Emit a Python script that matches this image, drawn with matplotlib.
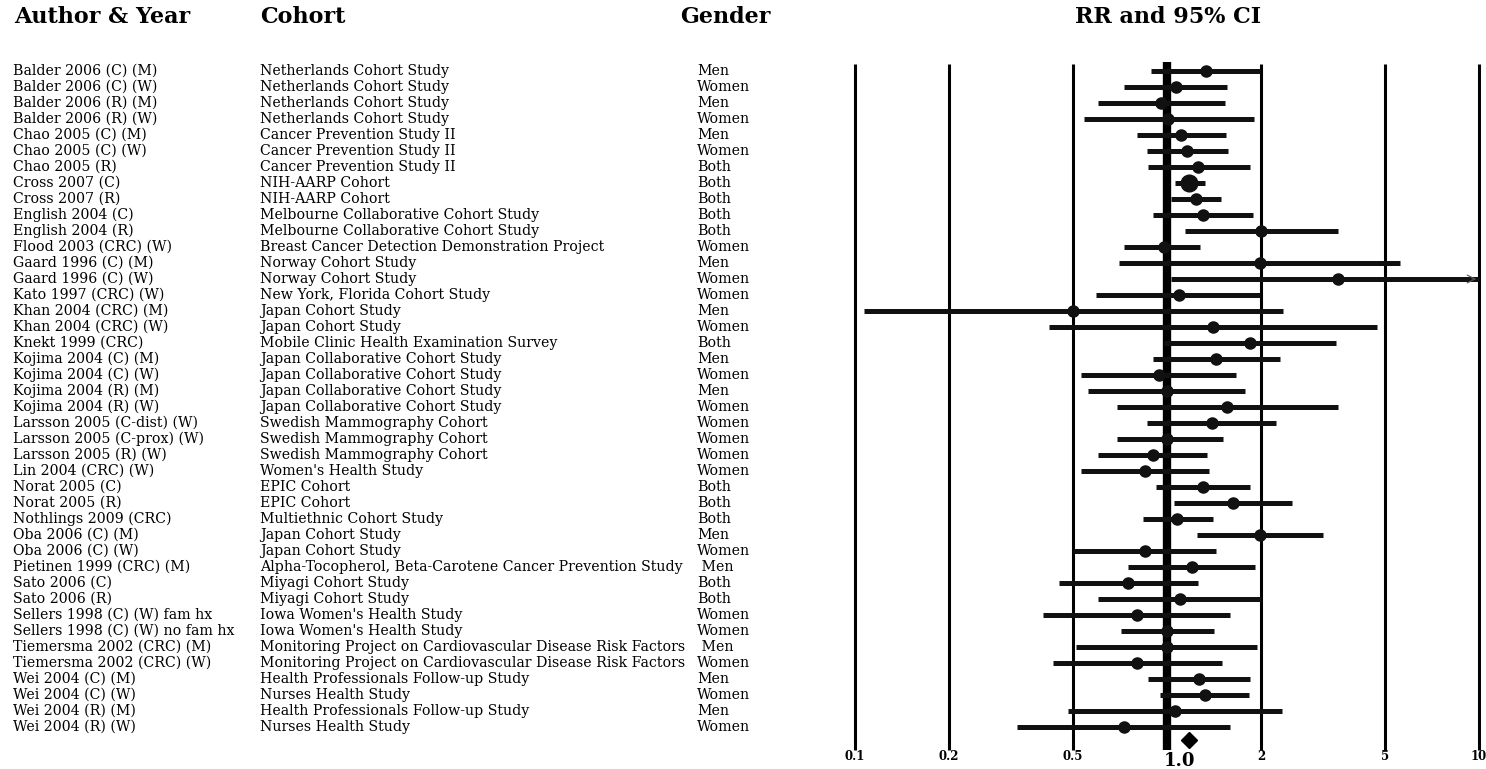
import matplotlib
matplotlib.use("Agg")
import matplotlib.pyplot as plt
import numpy as np

authors = [
    "Balder 2006 (C) (M)", "Balder 2006 (C) (W)", "Balder 2006 (R) (M)", "Balder 2006 (R) (W)",
    "Chao 2005 (C) (M)", "Chao 2005 (C) (W)", "Chao 2005 (R)", "Cross 2007 (C)", "Cross 2007 (R)",
    "English 2004 (C)", "English 2004 (R)", "Flood 2003 (CRC) (W)", "Gaard 1996 (C) (M)",
    "Gaard 1996 (C) (W)", "Kato 1997 (CRC) (W)", "Khan 2004 (CRC) (M)", "Khan 2004 (CRC) (W)",
    "Knekt 1999 (CRC)", "Kojima 2004 (C) (M)", "Kojima 2004 (C) (W)", "Kojima 2004 (R) (M)",
    "Kojima 2004 (R) (W)", "Larsson 2005 (C-dist) (W)", "Larsson 2005 (C-prox) (W)",
    "Larsson 2005 (R) (W)", "Lin 2004 (CRC) (W)", "Norat 2005 (C)", "Norat 2005 (R)",
    "Nothlings 2009 (CRC)", "Oba 2006 (C) (M)", "Oba 2006 (C) (W)", "Pietinen 1999 (CRC) (M)",
    "Sato 2006 (C)", "Sato 2006 (R)", "Sellers 1998 (C) (W) fam hx", "Sellers 1998 (C) (W) no fam hx",
    "Tiemersma 2002 (CRC) (M)", "Tiemersma 2002 (CRC) (W)", "Wei 2004 (C) (M)", "Wei 2004 (C) (W)",
    "Wei 2004 (R) (M)", "Wei 2004 (R) (W)",
]
cohorts = [
    "Netherlands Cohort Study", "Netherlands Cohort Study", "Netherlands Cohort Study", "Netherlands Cohort Study",
    "Cancer Prevention Study II", "Cancer Prevention Study II", "Cancer Prevention Study II",
    "NIH-AARP Cohort", "NIH-AARP Cohort",
    "Melbourne Collaborative Cohort Study", "Melbourne Collaborative Cohort Study",
    "Breast Cancer Detection Demonstration Project", "Norway Cohort Study", "Norway Cohort Study",
    "New York, Florida Cohort Study", "Japan Cohort Study", "Japan Cohort Study",
    "Mobile Clinic Health Examination Survey", "Japan Collaborative Cohort Study",
    "Japan Collaborative Cohort Study", "Japan Collaborative Cohort Study", "Japan Collaborative Cohort Study",
    "Swedish Mammography Cohort", "Swedish Mammography Cohort", "Swedish Mammography Cohort",
    "Women's Health Study", "EPIC Cohort", "EPIC Cohort", "Multiethnic Cohort Study",
    "Japan Cohort Study", "Japan Cohort Study",
    "Alpha-Tocopherol, Beta-Carotene Cancer Prevention Study", "Miyagi Cohort Study", "Miyagi Cohort Study",
    "Iowa Women's Health Study", "Iowa Women's Health Study",
    "Monitoring Project on Cardiovascular Disease Risk Factors",
    "Monitoring Project on Cardiovascular Disease Risk Factors",
    "Health Professionals Follow-up Study", "Nurses Health Study",
    "Health Professionals Follow-up Study", "Nurses Health Study",
]
genders = [
    "Men", "Women", "Men", "Women", "Men", "Women", "Both", "Both", "Both", "Both", "Both", "Women",
    "Men", "Women", "Women", "Men", "Women", "Both", "Men", "Women", "Men", "Women", "Women", "Women",
    "Women", "Women", "Both", "Both", "Both", "Men", "Women", " Men", "Both", "Both", "Women", "Women",
    " Men", "Women", "Men", "Women", "Men", "Women",
]
rr = [1.33, 1.07, 0.96, 1.01, 1.11, 1.16, 1.26, 1.18, 1.24, 1.30, 2.00, 0.98, 1.99, 3.52, 1.09,
      0.50, 1.40, 1.84, 1.44, 0.94, 1.00, 1.56, 1.39, 1.00, 0.90, 0.85, 1.30, 1.63, 1.08, 1.99,
      0.85, 1.20, 0.75, 1.10, 0.80, 1.00, 1.00, 0.80, 1.27, 1.32, 1.06, 0.73]
lo = [0.89, 0.73, 0.60, 0.54, 0.80, 0.86, 0.87, 1.06, 1.03, 0.90, 1.14, 0.73, 0.70, 1.03, 0.59,
      0.107, 0.42, 0.98, 0.90, 0.53, 0.56, 0.69, 0.86, 0.69, 0.60, 0.53, 0.92, 1.05, 0.84, 1.25,
      0.50, 0.75, 0.45, 0.60, 0.40, 0.71, 0.51, 0.43, 0.87, 0.95, 0.48, 0.33]
hi = [1.98, 1.56, 1.53, 1.90, 1.54, 1.57, 1.84, 1.32, 1.49, 1.88, 3.52, 1.28, 5.59, 12.0, 1.99,
      2.35, 4.70, 3.47, 2.30, 1.66, 1.78, 3.52, 2.24, 1.51, 1.34, 1.36, 1.84, 2.52, 1.40, 3.16,
      1.44, 1.92, 1.26, 2.00, 1.59, 1.41, 1.95, 1.50, 1.85, 1.83, 2.33, 1.59]
summary_rr = 1.18
tick_vals = [0.1, 0.2, 0.5, 2, 5, 10]
tick_text = ["0.1", "0.2", "0.5", "2", "5", "10"]

W, H = 1486, 769
fig = plt.figure(figsize=(W / 100, H / 100), dpi=100)

def fx(px):
    return px / W

def fy(py):
    return 1 - py / H

serif = ["DejaVu Serif"]

# forest axes positioned so that 0.1 -> px 855, 10 -> px 1479
left_px, right_px = 845, 1486
top_px, bot_px = 55, 769
ax = fig.add_axes([fx(left_px), fy(bot_px), (right_px - left_px) / W, (bot_px - top_px) / H])
ax.set_xscale("log")
dec = 312.0
ax.set_xlim(10 ** (-1 + (left_px - 855) / dec), 10 ** (-1 + (right_px - 855) / dec))
row0, step = 71, 16.0
ax.set_ylim((bot_px - row0) / step, (top_px - row0) / step)
ax.axis("off")

def rowy(py):
    return (py - row0) / step

def xval(px):
    return 10 ** (-1 + (px - 855) / dec)

for v in tick_vals:
    ax.plot([v, v], [rowy(64), rowy(750)], color="black", lw=2.2, solid_capstyle="butt", zorder=1)
ax.plot([1, 1], [rowy(62), rowy(750)], color="black", lw=6.0, solid_capstyle="butt", zorder=2)

xmax = 10.0
for i in range(len(rr)):
    h = min(hi[i], xmax)
    ax.plot([lo[i], h], [i, i], color="#111111", lw=3.6, solid_capstyle="butt", zorder=3)
    ms = 12 if authors[i] == "Cross 2007 (C)" else 8
    ax.plot([rr[i]], [i], marker="o", color="#111111", ms=ms, mec="#111111", zorder=4)
    if hi[i] > xmax:
        ax.annotate("", xy=(xmax, i), xytext=(xmax * 0.93, i),
                    arrowprops=dict(arrowstyle="->", color="#555555", lw=0.8, mutation_scale=14),
                    zorder=5)

ax.plot([summary_rr], [rowy(740)], marker="D", color="black", ms=8, zorder=4)

for v, t in zip(tick_vals, tick_text):
    ax.text(v, rowy(757), t, ha="center", va="center", fontsize=8.5, fontweight="bold",
            family=serif)
ax.text(xval(1180), rowy(761), "1.0", ha="center", va="center", fontsize=13, fontweight="bold",
        family=serif)

# headers
hdr = dict(fontsize=16, fontweight="bold", family=serif, va="center")
fig.text(fx(14), fy(17), "Author & Year", ha="left", **hdr)
fig.text(fx(260), fy(17), "Cohort", ha="left", **hdr)
fig.text(fx(680), fy(17), "Gender", ha="left", **hdr)
fig.text(fx(1168), fy(17), "RR and 95% CI", ha="center", **hdr)

for i in range(len(authors)):
    y = fy(row0 + step * i)
    fig.text(fx(13), y, authors[i], ha="left", va="center", fontsize=10.2, family=serif)
    fig.text(fx(260), y, cohorts[i], ha="left", va="center", fontsize=10.2, family=serif)
    fig.text(fx(697), y, genders[i], ha="left", va="center", fontsize=10.2, family=serif)

fig.savefig("out.png", dpi=100, facecolor="white")
